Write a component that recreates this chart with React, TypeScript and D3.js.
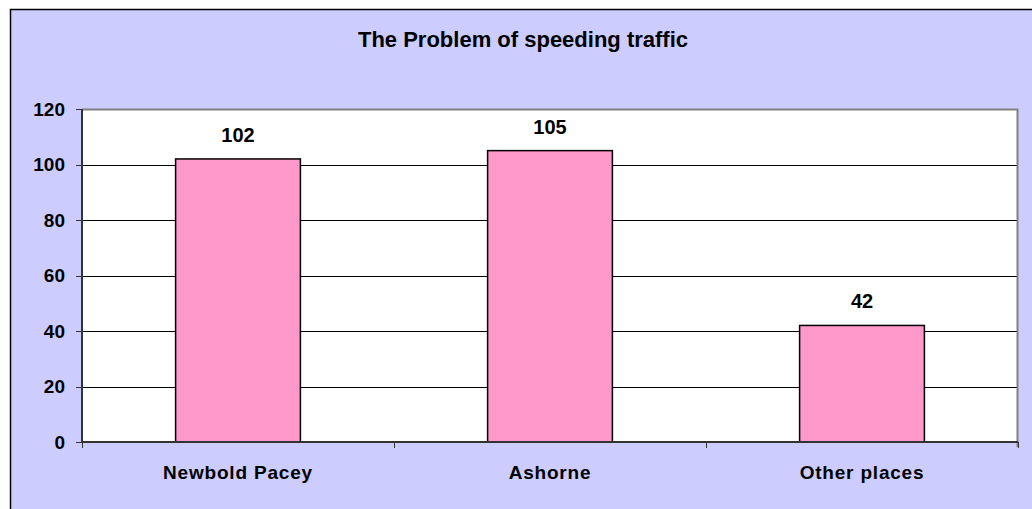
import React, { useEffect, useRef } from "react";
import * as d3 from "d3";

const categories = ["Newbold Pacey", "Ashorne", "Other places"];
const values = [102, 105, 42];
const yTicks = [0, 20, 40, 60, 80, 100, 120];
const title = "The Problem of speeding traffic";

const W = 1032;
const H = 509;

export default function App() {
  const ref = useRef<SVGSVGElement | null>(null);

  useEffect(() => {
    const svg = d3.select(ref.current);
    svg.selectAll("*").remove();

    const font = "'Liberation Sans', Arial, sans-serif";
    const left = 82, right = 1018, top = 109, bottom = 442;

    const x = d3.scaleBand<string>()
      .domain(categories)
      .range([left, right])
      .paddingInner(0.6)
      .paddingOuter(0.3);
    const y = d3.scaleLinear().domain([0, 120]).range([bottom, top]);

    // chart area background + border
    svg.append("rect")
      .attr("x", 10.5).attr("y", 9.5)
      .attr("width", W + 20).attr("height", H + 20)
      .attr("fill", "#ccccff")
      .attr("stroke", "#000").attr("stroke-width", 1.5);

    // plot area
    svg.append("rect")
      .attr("x", left).attr("y", top)
      .attr("width", right - left).attr("height", bottom - top)
      .attr("fill", "#fff");

    // gridlines
    svg.append("g").selectAll("line")
      .data(yTicks.filter(t => t > 0 && t < 120))
      .enter().append("line")
      .attr("x1", left).attr("x2", right)
      .attr("y1", d => Math.round(y(d)) + 0.5).attr("y2", d => Math.round(y(d)) + 0.5)
      .attr("stroke", "#000").attr("stroke-width", 1);

    // plot border top/right (gray)
    svg.append("path")
      .attr("d", `M${left},${top + 0.5}H${right - 0.5}V${bottom + 5}`)
      .attr("fill", "none")
      .attr("stroke", "#808080").attr("stroke-width", 2);

    // bars
    svg.append("g").selectAll("rect")
      .data(values)
      .enter().append("rect")
      .attr("x", (d, i) => x(categories[i])!)
      .attr("y", d => y(d))
      .attr("width", x.bandwidth())
      .attr("height", d => bottom - y(d))
      .attr("fill", "#ff99cc")
      .attr("stroke", "#000").attr("stroke-width", 1.5);

    // value labels
    svg.append("g").selectAll("text")
      .data(values)
      .enter().append("text")
      .attr("x", (d, i) => x(categories[i])! + x.bandwidth() / 2)
      .attr("y", d => y(d) - 17)
      .attr("text-anchor", "middle")
      .attr("font-family", font).attr("font-weight", "bold")
      .attr("font-size", 20)
      .text(d => d);

    // y axis
    const yAxis = svg.append("g");
    yAxis.append("line")
      .attr("x1", left).attr("x2", left)
      .attr("y1", top).attr("y2", bottom)
      .attr("stroke", "#333").attr("stroke-width", 2);
    yAxis.selectAll("line.tick")
      .data(yTicks)
      .enter().append("line")
      .attr("class", "tick")
      .attr("x1", left - 6).attr("x2", left)
      .attr("y1", d => Math.round(y(d)) + 0.5).attr("y2", d => Math.round(y(d)) + 0.5)
      .attr("stroke", "#333").attr("stroke-width", 1);
    yAxis.selectAll("text")
      .data(yTicks)
      .enter().append("text")
      .attr("x", 65)
      .attr("y", d => y(d))
      .attr("dy", "0.36em")
      .attr("text-anchor", "end")
      .attr("font-family", font).attr("font-weight", "bold")
      .attr("font-size", 19)
      .text(d => d);

    // x axis
    const xAxis = svg.append("g");
    xAxis.append("line")
      .attr("x1", left).attr("x2", right)
      .attr("y1", bottom).attr("y2", bottom)
      .attr("stroke", "#333").attr("stroke-width", 2);
    const step = x.step();
    xAxis.selectAll("line.tick")
      .data(d3.range(categories.length + 1))
      .enter().append("line")
      .attr("class", "tick")
      .attr("x1", i => Math.round(left + i * step) + 0.5)
      .attr("x2", i => Math.round(left + i * step) + 0.5)
      .attr("y1", bottom).attr("y2", bottom + 6)
      .attr("stroke", "#333").attr("stroke-width", 1);
    xAxis.selectAll("text")
      .data(categories)
      .enter().append("text")
      .attr("x", d => x(d)! + x.bandwidth() / 2)
      .attr("y", 479)
      .attr("text-anchor", "middle")
      .attr("font-family", font).attr("font-weight", "bold")
      .attr("font-size", 19)
      .attr("letter-spacing", 0.8)
      .text(d => d);

    // title
    svg.append("text")
      .attr("x", 523)
      .attr("y", 47)
      .attr("text-anchor", "middle")
      .attr("font-family", font).attr("font-weight", "bold")
      .attr("font-size", 22)
      .text(title);
  }, []);

  return (
    <svg
      ref={ref}
      width={W}
      height={H}
      style={{ position: "absolute", left: 0, top: 0, background: "#fff" }}
    />
  );
}
